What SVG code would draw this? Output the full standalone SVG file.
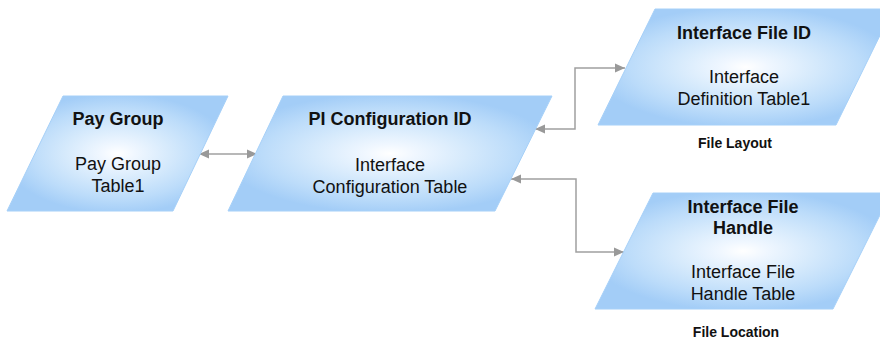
<svg xmlns="http://www.w3.org/2000/svg" width="880" height="342" viewBox="0 0 880 342">
<defs>
<radialGradient id="fill" cx="0.5" cy="0.5" r="0.52">
<stop offset="0" stop-color="#ffffff"/>
<stop offset="0.15" stop-color="#f0f7ff"/>
<stop offset="0.45" stop-color="#d6eafc"/>
<stop offset="0.75" stop-color="#bcdcfa"/>
<stop offset="1" stop-color="#a3cdf7"/>
</radialGradient>
<marker id="arr" viewBox="0 0 10 10" refX="10" refY="5" markerWidth="10" markerHeight="10" markerUnits="userSpaceOnUse" orient="auto-start-reverse">
<path d="M0,0.5 L10,5 L0,9.5 Z" fill="#999999"/>
</marker>
<style>
.shape{fill:url(#fill);stroke:#a6d0f8;stroke-width:1}
.title{font-family:"Liberation Sans",Arial,sans-serif;font-weight:bold;font-size:18px;fill:#111;text-anchor:middle}
.body{font-family:"Liberation Sans",Arial,sans-serif;font-size:18px;fill:#111;text-anchor:middle}
.cap{font-family:"Liberation Sans",Arial,sans-serif;font-weight:bold;font-size:14px;fill:#111;text-anchor:middle}
.conn{fill:none;stroke:#a0a0a0;stroke-width:1.5;marker-start:url(#arr);marker-end:url(#arr)}
</style>
</defs>
<rect width="880" height="342" fill="#ffffff"/>
<g id="connectors">
<path class="conn" d="M199,154 H257"/>
<path class="conn" d="M535,129 H575 V68 H625"/>
<path class="conn" d="M511,179 H576 V252 H624"/>
</g>
<g id="pay-group">
<polygon class="shape" points="63,96 228,96 173,211 7,211"/>
<text class="title" x="118" y="125">Pay Group</text>
<text class="body" x="118" y="170">Pay Group</text>
<text class="body" x="118" y="192">Table1</text>
</g>
<g id="pi-config">
<polygon class="shape" points="283,96 552,96 495,211 228,211"/>
<text class="title" x="390" y="125">PI Configuration ID</text>
<text class="body" x="390" y="171">Interface</text>
<text class="body" x="390" y="193">Configuration Table</text>
</g>
<g id="interface-file-id">
<polygon class="shape" points="655,9 893,9 836,125 598,125"/>
<text class="title" x="744" y="39">Interface File ID</text>
<text class="body" x="744" y="83">Interface</text>
<text class="body" x="744" y="105">Definition Table1</text>
<text class="cap" x="735" y="148">File Layout</text>
</g>
<g id="interface-file-handle">
<polygon class="shape" points="653,193 891,193 833,309 595,309"/>
<text class="title" x="743" y="213">Interface File</text>
<text class="title" x="743" y="234">Handle</text>
<text class="body" x="743" y="278">Interface File</text>
<text class="body" x="743" y="300">Handle Table</text>
<text class="cap" x="736" y="337">File Location</text>
</g>
</svg>
